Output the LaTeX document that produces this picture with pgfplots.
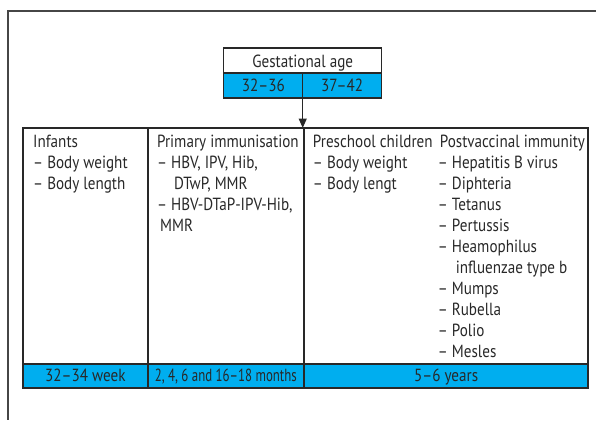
\documentclass[border=0pt]{standalone}
\usepackage{pgfplots}
\pgfplotsset{compat=1.18}
\usepackage{fontspec}
\setmainfont{PT Sans}[FakeStretch=0.86]
\usetikzlibrary{arrows.meta}
\definecolor{cyanfill}{RGB}{0,174,239}
\definecolor{linec}{RGB}{40,40,40}
\definecolor{framec}{RGB}{70,70,70}
\begin{document}
\begin{tikzpicture}
\begin{axis}[width=447.75pt,height=315pt,scale only axis,
  xmin=0,xmax=597,ymin=0,ymax=420,y dir=reverse,hide axis,clip=false]
\path (axis cs:0,0) rectangle (axis cs:597,420);
% outer frame (top and left)
\draw[framec,line width=0.8pt] (axis cs:8,420) -- (axis cs:8,11) -- (axis cs:597,11);
% gestational age box
\fill[cyanfill] (axis cs:224,73) rectangle (axis cs:382,98);
\draw[linec,line width=0.9pt] (axis cs:224,48) rectangle (axis cs:382,98);
\draw[linec,line width=0.9pt] (axis cs:224,73) -- (axis cs:382,73);
\draw[linec,line width=0.9pt] (axis cs:303,73) -- (axis cs:303,98);
\draw[linec,line width=0.9pt,-{Triangle[length=7pt,width=6pt]}] (axis cs:303,98) -- (axis cs:303,128);
\begin{scope}[every node/.style={font=\fontsize{13.2}{15}\selectfont,text=linec,inner sep=0pt}]
\node[anchor=base] at (axis cs:303,68) {Gestational age};
\node[anchor=base] at (axis cs:263.5,92) {32–36};
\node[anchor=base] at (axis cs:342.5,92) {37–42};
% table
\fill[cyanfill] (axis cs:23,364) rectangle (axis cs:589,388);
\draw[linec,line width=1.5pt] (axis cs:23,128) rectangle (axis cs:589,388);
\draw[linec,line width=1.5pt] (axis cs:23,364) -- (axis cs:589,364);
\draw[linec,line width=1.5pt] (axis cs:148,128) -- (axis cs:148,388);
\draw[linec,line width=1.5pt] (axis cs:304,128) -- (axis cs:304,388);
\node[anchor=base] at (axis cs:85.5,382) {32–34 week};
\node[anchor=base] at (axis cs:226,382) {\scalebox{0.85}[1]{2, 4, 6 and 16–18 months}};
\node[anchor=base] at (axis cs:446.5,382) {5–6 years};
% column 1
\node[anchor=base west] at (axis cs:33,148) {Infants};
\node[anchor=base west] at (axis cs:33,169) {– Body weight};
\node[anchor=base west] at (axis cs:33,190) {– Body length};
% column 2
\node[anchor=base west] at (axis cs:157,148) {Primary immunisation};
\node[anchor=base west] at (axis cs:157,169) {– HBV, IPV, Hib,};
\node[anchor=base west] at (axis cs:174,190) {DTwP, MMR};
\node[anchor=base west] at (axis cs:157,211) {– HBV-DTaP-IPV-Hib,};
\node[anchor=base west] at (axis cs:160,232) {MMR};
% column 3
\node[anchor=base west] at (axis cs:313,148) {Preschool children};
\node[anchor=base west] at (axis cs:313,169) {– Body weight};
\node[anchor=base west] at (axis cs:313,190) {– Body lengt};
% column 4
\node[anchor=base west] at (axis cs:440,148) {Postvaccinal immunity};
\node[anchor=base west] at (axis cs:438,169) {– Hepatitis B virus};
\node[anchor=base west] at (axis cs:438,190) {– Diphteria};
\node[anchor=base west] at (axis cs:438,211) {– Tetanus};
\node[anchor=base west] at (axis cs:438,232) {– Pertussis};
\node[anchor=base west] at (axis cs:438,253) {– Heamophilus};
\node[anchor=base west] at (axis cs:456,274) {influenzae type b};
\node[anchor=base west] at (axis cs:438,295) {– Mumps};
\node[anchor=base west] at (axis cs:438,316) {– Rubella};
\node[anchor=base west] at (axis cs:438,337) {– Polio};
\node[anchor=base west] at (axis cs:438,358) {– Mesles};
\end{scope}
\end{axis}
\end{tikzpicture}
\end{document}
